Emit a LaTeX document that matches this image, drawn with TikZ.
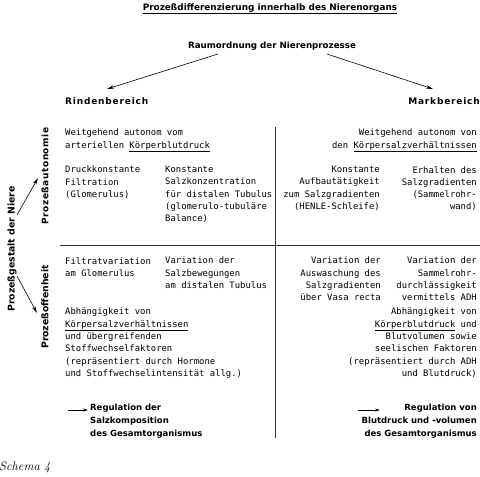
\documentclass[tikz,border=0pt]{standalone}
\usepackage{fontspec}
\usetikzlibrary{arrows.meta}
\setmainfont{DejaVu Sans}
\newfontfamily\bodyf{DejaVu Sans Mono}
\newfontfamily\headf[LetterSpace=9]{DejaVu Sans Bold}
\newfontfamily\boldf{DejaVu Sans Bold}
\newfontfamily\autof[LetterSpace=6]{DejaVu Sans Bold}
\newfontfamily\schemaf{Latin Modern Roman}
\begin{document}
\begin{tikzpicture}[x=1pt,y=-1pt,
  body/.style={font=\bodyf\fontsize{8.9}{12.3}\selectfont, inner sep=0pt},
  bodyl/.style={body, align=left, anchor=north west},
  bodyr/.style={body, align=right, anchor=north east},
  titlef/.style={font=\boldf\fontsize{8.9}{10}\selectfont, inner sep=0pt, anchor=base},
  raumf/.style={font=\boldf\fontsize{8.7}{10}\selectfont, inner sep=0pt, anchor=base},
  headn/.style={font=\headf\fontsize{9}{11}\selectfont, inner sep=0pt},
  vlab/.style={font=\boldf\fontsize{9.3}{10}\selectfont, inner sep=0pt, rotate=90},
  regl/.style={font=\boldf\fontsize{8.5}{13}\selectfont, inner sep=0pt, align=left, anchor=north west},
  regr/.style={font=\boldf\fontsize{8.5}{13}\selectfont, inner sep=0pt, align=right, anchor=north east},
  arr/.style={line width=0.6pt, -{Stealth[length=7pt,width=3.5pt]}},
  sarr/.style={line width=0.6pt, -{Stealth[length=5pt,width=3pt]}},
  rule/.style={line width=0.7pt, black!80}
]
\useasboundingbox (0,0) rectangle (480,477);

% heading
\node[titlef] (title) at (270,10) {\underline{Prozeßdifferenzierung innerhalb des Nierenorgans}};
\node[raumf] (raum) at (272,48) {Raumordnung der Nierenprozesse};
\node[headn, anchor=base west] (rinde) at (65,104) {Rindenbereich};
\node[headn, anchor=base east] (mark) at (480,104) {Markbereich};

\coordinate (ra1) at (218,54);
\coordinate (ra2) at (327,54);
\coordinate (ri) at (107,89);
\coordinate (ma) at (433,89);
\draw[arr] (ra1) -- (ri);
\draw[arr] (ra2) -- (ma);

% grid lines
\coordinate (vt) at (275,127);
\coordinate (vb) at (275,438);
\coordinate (hl) at (60,245);
\coordinate (hr) at (480,245);
\draw[rule] (vt) -- (vb);
\draw[rule] (hl) -- (hr);

% side labels
\node[vlab] (gestalt) at (12,249) {Prozeßgestalt der Niere};
\node[vlab, font=\autof\fontsize{9}{10}\selectfont] (auto) at (45,176) {Prozeßautonomie};
\node[vlab] (offen) at (45,307) {Prozeßoffenheit};
\coordinate (g1) at (17,215);
\coordinate (g2) at (38,178);
\coordinate (g3) at (17,276);
\coordinate (g4) at (37,313);
\draw[arr] (g1) -- (g2);
\draw[arr] (g3) -- (g4);

% upper left
\node[bodyl] (wl) at (65,129) {Weitgehend autonom vom\\arteriellen \underline{Körperblutdruck}};
\node[bodyl] (druck) at (65,166) {Druckkonstante\\Filtration\\(Glomerulus)};
\node[bodyl] (konst) at (165,166) {Konstante\\Salzkonzentration\\für distalen Tubulus\\(glomerulo-tubuläre\\Balance)};

% upper right
\node[bodyr] (wr) at (477,129) {Weitgehend autonom von\\den \underline{Körpersalzverhältnissen}};
\node[bodyr] (henle) at (380,166) {Konstante\\Aufbautätigkeit\\zum Salzgradienten\\(HENLE-Schleife)};
\node[bodyr] (erh) at (477,166) {Erhalten des\\Salzgradienten\\(Sammelrohr-\\wand)};

% lower left
\node[bodyl] (filt) at (65,257) {Filtratvariation\\am Glomerulus};
\node[bodyl] (varl) at (165,257) {Variation der\\Salzbewegungen\\am distalen Tubulus};
\node[bodyl] (abhl) at (65,308) {Abhängigkeit von\\\underline{Körpersalzverhältnissen}\\und übergreifenden\\Stoffwechselfaktoren\\(repräsentiert durch Hormone\\und Stoffwechselintensität allg.)};

% lower right
\node[bodyr] (vasa) at (381,257) {Variation der\\Auswaschung des\\Salzgradienten\\über Vasa recta};
\node[bodyr] (samm) at (477,257) {Variation der\\Sammelrohr-\\durchlässigkeit\\vermittels ADH};
\node[bodyr] (abhr) at (477,308) {Abhängigkeit von\\\underline{Körperblutdruck} und\\Blutvolumen sowie\\seelischen Faktoren\\(repräsentiert durch ADH\\und Blutdruck)};

% regulation
\node[regl] (regl) at (90,404) {Regulation der\\Salzkomposition\\des Gesamtorganismus};
\node[regr] (regr) at (477,404) {Regulation von\\Blutdruck und -volumen\\des Gesamtorganismus};
\coordinate (la) at (68,410);
\coordinate (lb) at (88,410);
\coordinate (rb) at (358,410);
\coordinate (rc) at (380,410);
\draw[sarr] (la) -- (lb);
\draw[sarr] (rb) -- (rc);

\node[font=\schemaf\itshape\fontsize{12.5}{14}\selectfont, inner sep=0pt, anchor=base west] (schema) at (-1,470) {Schema 4};
\end{tikzpicture}
\end{document}
